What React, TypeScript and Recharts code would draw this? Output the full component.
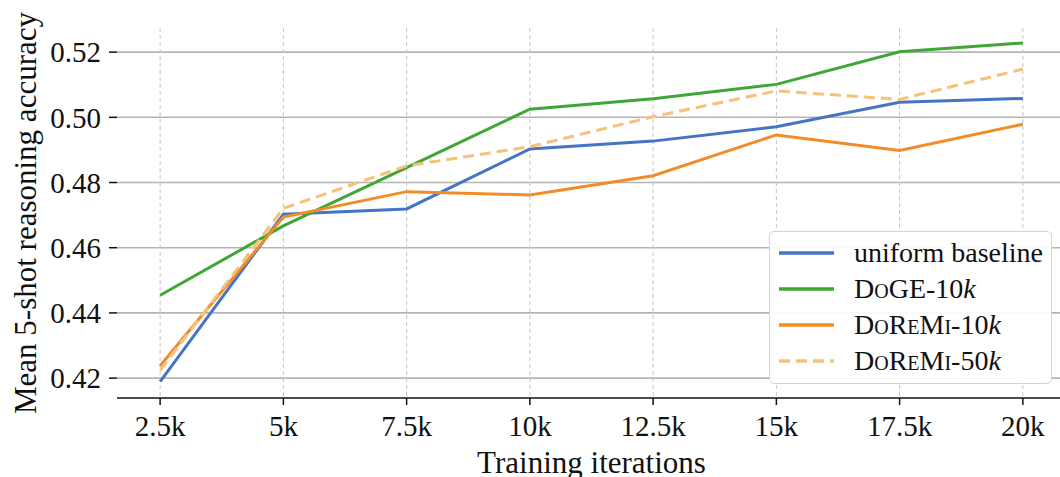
import React from "react";
import {
  LineChart,
  Line,
  XAxis,
  YAxis,
  CartesianGrid,
  Legend,
  Label,
} from "recharts";

// training iterations, in thousands
const iterations = [2.5, 5, 7.5, 10, 12.5, 15, 17.5, 20];
const uniformBaseline = [0.4189, 0.4703, 0.4719, 0.4903, 0.4927, 0.4971, 0.5046, 0.5058];
const doge10k = [0.4454, 0.4667, 0.4846, 0.5025, 0.5057, 0.5101, 0.5201, 0.5228];
const doremi10k = [0.4238, 0.4694, 0.4772, 0.4762, 0.4821, 0.4946, 0.4898, 0.4979];
const doremi50k = [0.4224, 0.4721, 0.4851, 0.491, 0.5002, 0.5081, 0.5055, 0.5148];

const seriesNames = ["uniform baseline", "DoGE-10k", "DoReMi-10k", "DoReMi-50k"];
const xTicks = [2.5, 5, 7.5, 10, 12.5, 15, 17.5, 20];
const yTicks = [0.42, 0.44, 0.46, 0.48, 0.5, 0.52];

const data = iterations.map((it, i) => ({
  it,
  uniform: uniformBaseline[i],
  doge: doge10k[i],
  doremi10: doremi10k[i],
  doremi50: doremi50k[i],
}));

const FONT = '"Liberation Serif", "DejaVu Serif", serif';

function LegendBox(props: any) {
  const items = [...(props.payload || [])].sort(
    (a: any, b: any) => seriesNames.indexOf(a.value) - seriesNames.indexOf(b.value)
  );
  return (
    <div
      style={{
        width: 283,
        height: 153,
        boxSizing: "border-box",
        border: "1.5px solid #d4d4d4",
        borderRadius: 5,
        background: "rgba(255,255,255,0.92)",
        paddingTop: 3,
        fontFamily: FONT,
        fontSize: 28,
        color: "#111",
      }}
    >
      {items.map((it: any) => {
        const name: string = it.value;
        const fancy = name.startsWith("Do");
        return (
          <div key={name} style={{ height: 36, display: "flex", alignItems: "center" }}>
            <svg width={84} height={36} style={{ flex: "none" }}>
              <line
                x1={9}
                x2={64}
                y1={18}
                y2={18}
                stroke={it.color}
                strokeWidth={3.5}
                strokeDasharray={it.payload?.strokeDasharray}
              />
            </svg>
            {fancy ? (
              <span style={{ whiteSpace: "nowrap" }}>
                <span style={{ fontVariant: "small-caps" }}>{name.slice(0, -1)}</span>
                <i>k</i>
              </span>
            ) : (
              <span style={{ whiteSpace: "nowrap" }}>{name}</span>
            )}
          </div>
        );
      })}
    </div>
  );
}

export default function App() {
  return (
    <div style={{ position: "absolute", left: 0, top: 0, width: 1060, height: 477, overflow: "hidden", background: "#fff" }}>
      <LineChart
        width={1066}
        height={477}
        data={data}
        margin={{ top: 28, right: 0, left: 0, bottom: 0 }}
        style={{ fontFamily: FONT }}
      >
        <CartesianGrid vertical={false} syncWithTicks stroke="#b4b4b4" strokeWidth={1.6} />
        <CartesianGrid
          horizontal={false}
          syncWithTicks
          stroke="#c4c4c4"
          strokeWidth={1}
          strokeDasharray="4 3"
        />
        <XAxis
          dataKey="it"
          type="number"
          domain={[1.625, 20.875]}
          ticks={xTicks}
          allowDataOverflow
          height={79}
          tickFormatter={(v: number) => `${v}k`}
          tick={{ fill: "#111", fontSize: 29 }}
          tickSize={7}
          tickMargin={10}
          tickLine={{ stroke: "#111", strokeWidth: 1.5 }}
          axisLine={{ stroke: "#111", strokeWidth: 1.5 }}
        >
          <Label
            value="Training iterations"
            position="insideBottom"
            offset={4}
            style={{ fill: "#111", fontSize: 31, fontFamily: FONT }}
          />
        </XAxis>
        <YAxis
          type="number"
          domain={[0.4139, 0.5274]}
          ticks={yTicks}
          allowDataOverflow
          width={117}
          tickFormatter={(v: number) => v.toFixed(2)}
          tick={{ fill: "#111", fontSize: 29 }}
          tickSize={8}
          tickMargin={8}
          tickLine={{ stroke: "#111", strokeWidth: 1.5 }}
          axisLine={false}
        >
          <Label
            value="Mean 5-shot reasoning accuracy"
            angle={-90}
            position="insideLeft"
            offset={25}
            style={{ fill: "#111", fontSize: 31, fontFamily: FONT, textAnchor: "middle" }}
          />
        </YAxis>
        <Legend
          content={<LegendBox />}
          layout="horizontal"
          verticalAlign="middle"
          align="center"
          wrapperStyle={{ left: 769, top: 231, width: 283, height: 153 }}
        />
        <Line
          name="uniform baseline"
          dataKey="uniform"
          stroke="#4674c4"
          strokeWidth={3}
          dot={false}
          isAnimationActive={false}
        />
        <Line
          name="DoGE-10k"
          dataKey="doge"
          stroke="#40a636"
          strokeWidth={3}
          dot={false}
          isAnimationActive={false}
        />
        <Line
          name="DoReMi-10k"
          dataKey="doremi10"
          stroke="#f28c28"
          strokeWidth={3}
          dot={false}
          isAnimationActive={false}
        />
        <Line
          name="DoReMi-50k"
          dataKey="doremi50"
          stroke="#f5c27c"
          strokeWidth={3}
          strokeDasharray="11 6"
          dot={false}
          isAnimationActive={false}
        />
      </LineChart>
    </div>
  );
}
